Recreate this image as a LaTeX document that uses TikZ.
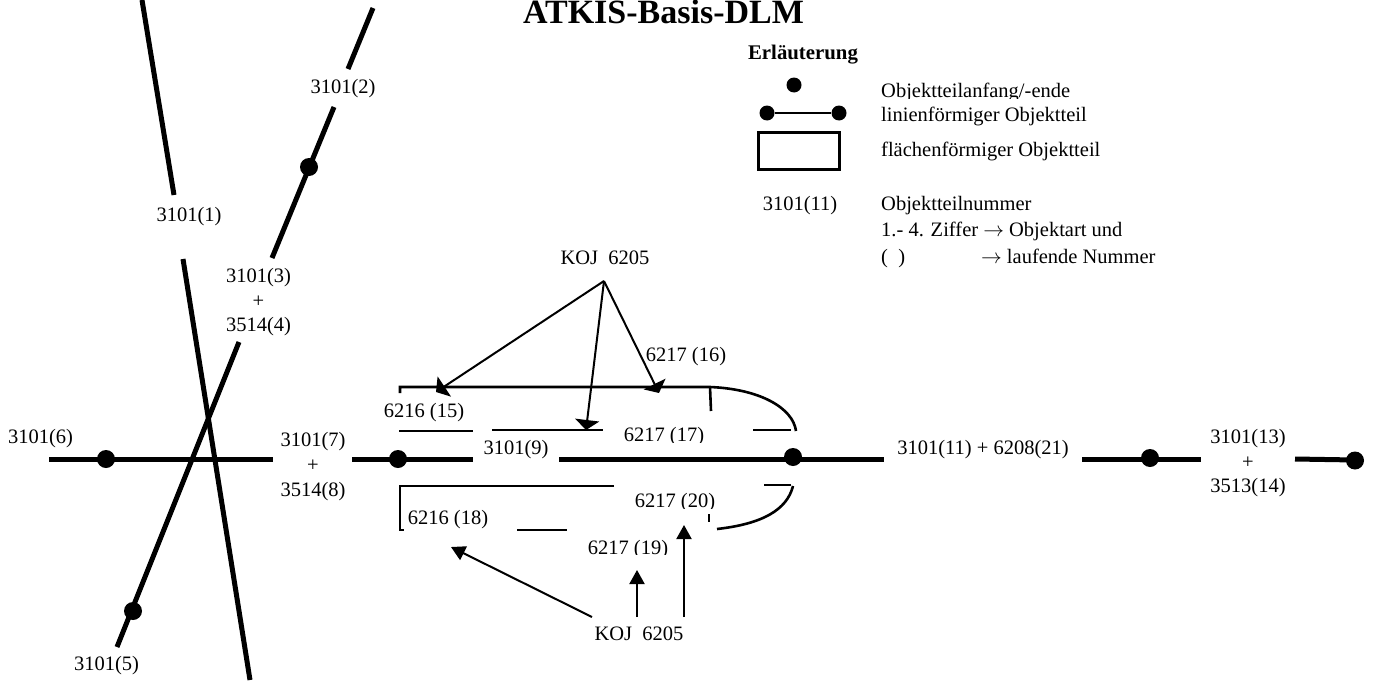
\documentclass[tikz,border=0pt]{standalone}
\usepackage{fontspec}
\setmainfont{Liberation Serif}
\usetikzlibrary{
  arrows.meta,
  positioning
}

\begin{document}
\begin{tikzpicture}[
  x=1pt, y=-1pt,
  >={Triangle[length=14pt,width=15pt]},
  lab/.style={font=\fontsize{20.5}{24}\selectfont, inner sep=0pt, text height=14pt, text depth=4.5pt},
  leftlab/.style={lab, anchor=west},
  dot/.style={circle, fill=black, inner sep=0pt, minimum size=#1},
  road/.style={line width=5pt},
  edge/.style={line width=2.6pt},
  thinedge/.style={line width=1.3pt},
  pointer/.style={->, line width=2pt},
  widepointer/.style={-{Triangle[length=10pt,width=24pt]}, line width=2pt},
]
  \useasboundingbox (0,0) rectangle (1375,680);

  % title and legend
  \node[lab, font=\fontsize{34}{36}\selectfont\bfseries, text height=22pt, text depth=1pt] (title) at (663.5,13) {ATKIS-Basis-DLM};
  \node[lab, font=\fontsize{20.8}{24}\selectfont\bfseries] (legendhead) at (803,54.6) {Erläuterung};
  \node[dot=15pt] (legenddot) at (794,85) {};
  \node[dot=15pt] (legendleft) at (767,113) {};
  \node[dot=15pt] (legendright) at (839,113) {};
  \draw[edge] (legendleft) -- (legendright);
  \node[draw, line width=2.6pt, minimum width=81pt, minimum height=37pt, inner sep=0pt] (legendbox) at (799,151) {};
  \node[lab] (legendnum) at (800,206) {3101(11)};
  \foreach \name/\y/\lab in {
    legendb/117/linienförmiger Objektteil,
    legendc/152/flächenförmiger Objektteil,
    legendd/206/Objektteilnummer,
    legende/232/1.- 4. Ziffer $\rightarrow$ Objektart und,
    legendf/258.5/(\ \ )\hspace{76pt}$\rightarrow$ laufende Nummer} {
    \node[leftlab] (\name) at (881,\y) {\lab};
  }

  % crossing roads
  \foreach \name/\x/\y in {a1/142/0, a2/174/195, a3/183/259, a4/250/680,
    b1/373/8, b2/348/69, b3/334/107, b4/272/258, b5/239/342, b6/117/647} {
    \coordinate (\name) at (\x,\y);
  }
  \draw[road] (a1) -- (a2);
  \draw[road] (a3) -- (a4);
  \draw[road] (b1) -- (b2);
  \draw[road] (b3) -- (b4);
  \draw[road] (b5) -- (b6);

  % main road
  \foreach \name/\x/\y in {c1/49/459, c2/273/459, c3/352/459, c4/473/459, c5/559/459, c6/884/459,
    c7/1082/459, c8/1201/459, c9/1295/459, c10/1355/460} {
    \coordinate (\name) at (\x,\y);
  }
  \draw[road] (c1) -- (c2);
  \draw[road] (c3) -- (c4);
  \draw[road] (c5) -- (c6);
  \draw[road] (c7) -- (c8);
  \draw[road] (c9) -- (c10);

  % part ends
  \foreach \name/\x/\y in {p1/309/167, p2/133/611, p3/106/459, p4/398/459, p5/793/457, p6/1150/458, p7/1355/460.5} {
    \node[dot=18pt] (\name) at (\x,\y) {};
  }

  % upper areas
  \foreach \name/\x/\y in {u1/400/393, u2/400/387, u3/710/387, u4/796/431, u5/711/411,
    u6/399/431, u7/473/431, u8/492/430, u9/559/430, u10/603/430, u11/753/430, u12/791/430} {
    \coordinate (\name) at (\x,\y);
  }
  \draw[edge] (u1) -- (u2) -- (u3) .. controls (760,389) and (793,408) .. (u4);
  \draw[edge] (u3) -- (u5);
  \draw[thinedge] (u6) -- (u7);
  \draw[thinedge] (u8) -- (u9);
  \draw[edge] (u9) -- (u10);
  \draw[edge] (u11) -- (u12);

  % lower areas
  \foreach \name/\x/\y in {l1/614/486, l2/400/486, l3/400/530, l4/404/530, l5/764/485, l6/791/485,
    l7/793/486, l8/717/529, l9/709/514, l10/709/522, l11/517/530, l12/567/530} {
    \coordinate (\name) at (\x,\y);
  }
  \draw[edge] (l1) -- (l2) -- (l3) -- (l4);
  \draw[thinedge] (l5) -- (l6);
  \draw[edge] (l7) .. controls (787,510) and (762,524) .. (l8);
  \draw[edge] (l9) -- (l10);
  \draw[edge] (l11) -- (l12);

  % labels
  \foreach \name/\x/\y/\lab in {
    n1/189/217/3101(1), n2/343/88.6/3101(2), n3/258.5/278/3101(3), n4/258.5/302.5/+, n5/258.5/327/3514(4),
    n6/106.5/666/3101(5), n7/40.5/438.5/3101(6), n8/313/442/3101(7), n9/313/466.5/+, n10/313/492/3514(8),
    n11/516/449.5/3101(9), n12/983/450/3101(11) + 6208(21), n13/1248/439/3101(13), n14/1248/463.5/+,
    n15/1248/488/3513(14), n16/424/412.6/6216 (15), n17/686/357/6217 (16), n18/448/520/6216 (18),
    koja/605/260/KOJ\ \ 6205, kojb/639/636/KOJ\ \ 6205} {
    \node[lab] (\name) at (\x,\y) {\lab};
  }

  % cut off texts
  \foreach \name/\x/\y/\cut/\lab in {
    n19/664/437/442/6217 (17), n20/675/503/508/6217 (20), n21/628/549.5/554/6217 (19)} {
    \begin{scope}
      \clip (\x-60,\y-20) rectangle (\x+60,\cut);
      \node[lab] (\name) at (\x,\y) {\lab};
    \end{scope}
  }
  \begin{scope}
    \clip (875,80) rectangle (1100,98);
    \node[leftlab] (legenda) at (881,92.5) {Objektteilanfang/-ende};
  \end{scope}

  % pointers
  \foreach \name/\x/\y in {t0/604/281, t1/436/392, t2/586/430, t3/659/393,
    s1/592/617, s2/451/547, s3/637/617, s4/637/570, s5/684/617, s6/684/525} {
    \coordinate (\name) at (\x,\y);
  }
  \draw[widepointer] (t0) -- (t1);
  \draw[widepointer] (t0) -- (t2);
  \draw[widepointer] (t0) -- (t3);
  \draw[pointer] (s1) -- (s2);
  \draw[pointer] (s3) -- (s4);
  \draw[pointer] (s5) -- (s6);
\end{tikzpicture}
\end{document}
